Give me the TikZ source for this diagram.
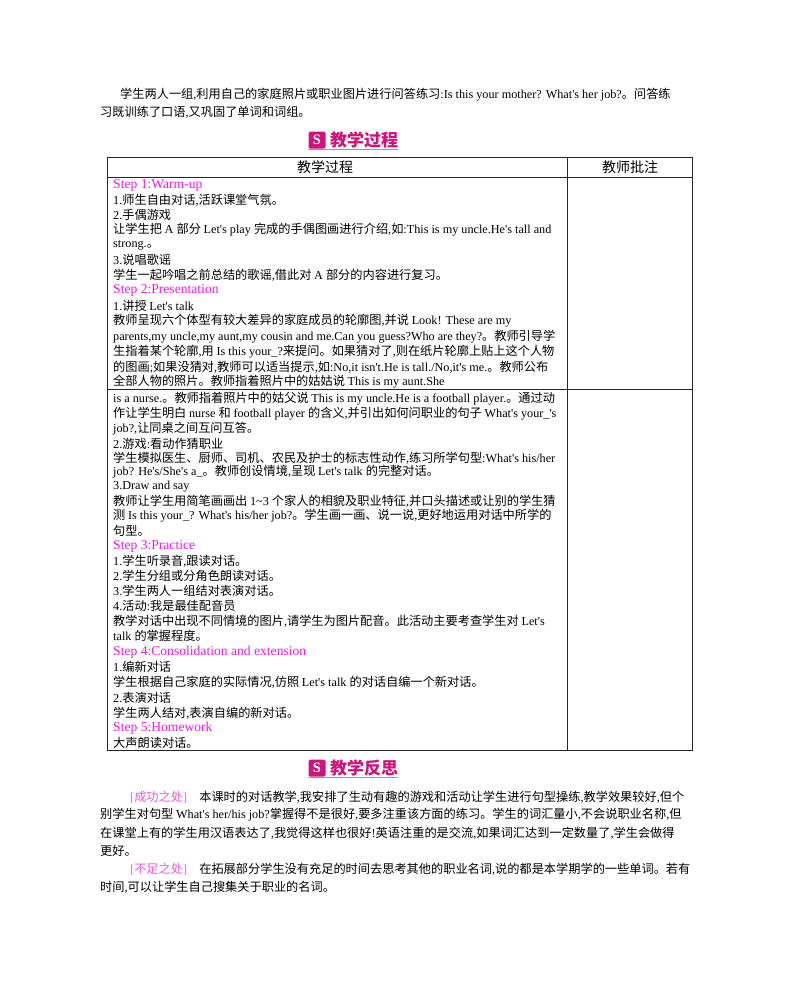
\documentclass[tikz,border=0pt]{standalone}
\usepackage{fontspec}
\setmainfont{Liberation Serif}
\newfontfamily\cjk{Noto Sans CJK SC}
\newfontfamily\latf{Liberation Serif}
\XeTeXinterchartokenstate=1
\newXeTeXintercharclass\CJKcls
\count255="4E00 \loop\XeTeXcharclass\count255=\CJKcls\ifnum\count255<"9FFF \advance\count255 1 \repeat
\count255="3000 \loop\XeTeXcharclass\count255=\CJKcls\ifnum\count255<"303F \advance\count255 1 \repeat
\count255="FF01 \loop\XeTeXcharclass\count255=\CJKcls\ifnum\count255<"FF5E \advance\count255 1 \repeat
\XeTeXinterchartoks 0 \CJKcls = {\cjk}
\XeTeXinterchartoks 4095 \CJKcls = {\cjk}
\XeTeXinterchartoks \CJKcls 0 = {\latf}
\XeTeXinterchartoks 4095 0 = {\latf}
\definecolor{stepc}{RGB}{235,30,225}
\definecolor{headc}{RGB}{205,20,120}
\definecolor{brc}{RGB}{235,90,220}
\newcounter{lnc}
\tikzset{txt/.style={anchor=west,inner sep=0pt,font=\fontsize{12.2}{13}\selectfont,text=black},
 steptxt/.style={txt,font=\fontsize{13.6}{15}\selectfont,text=stepc},
 grid/.style={line width=0.9pt,draw=black!85},
 headtxt/.style={anchor=west,inner sep=0pt,font=\fontsize{17}{18}\selectfont\bfseries,text=headc}}
\newcommand\tl[2]{\stepcounter{lnc}\node[txt] (t\arabic{lnc}) at (113,-#1) {#2};}
\newcommand\st[2]{\stepcounter{lnc}\node[steptxt] (t\arabic{lnc}) at (113,-#1) {#2};}
\newcommand\pl[3]{\stepcounter{lnc}\node[txt] (t\arabic{lnc}) at (#1,-#2) {#3};}
\newcommand\heading[3]{%
 \node[fill=headc,rounded corners=1.5pt,minimum width=17pt,minimum height=17pt,inner sep=0pt,text=white,font=\bfseries\Large] (#1i) at (317,-#2) {S};
 \node[headtxt] (#1t) at (330,-#2) {#3};
 \draw[headc!60,line width=1pt] ([yshift=-1pt]#1i.south west) -- ([xshift=90pt,yshift=-1pt]#1i.south west);}
\begin{document}
\begin{tikzpicture}[x=1pt,y=1pt]
\useasboundingbox (0,0) rectangle (800,-994);
\fill[white] (0,0) rectangle (800,-994);
\pl{120}{95}{学生两人一组,利用自己的家庭照片或职业图片进行问答练习:Is this your mother? What's her job?。问答练}
\pl{100}{112}{习既训练了口语,又巩固了单词和词组。}
\heading{h1}{140}{教学过程}
% table
\node[txt,anchor=center,font=\fontsize{14}{15}\selectfont] (th1) at (325,-167) {教学过程};
\node[txt,anchor=center,font=\fontsize{14}{15}\selectfont] (th2) at (630,-167) {教师批注};
\draw[grid] (107,-157) rectangle (692,-750);
\draw[grid] (107,-177) -- (692,-177);
\draw[grid] (107,-389) -- (692,-389);
\draw[grid] (567,-157) -- (567,-750);
\st{185}{Step 1:Warm-up}
\tl{200}{1.师生自由对话,活跃课堂气氛。}
\tl{215}{2.手偶游戏}
\tl{230}{让学生把 A 部分 Let's play 完成的手偶图画进行介绍,如:This is my uncle.He's tall and}
\tl{245}{strong.。}
\tl{260}{3.说唱歌谣}
\tl{275}{学生一起吟唱之前总结的歌谣,借此对 A 部分的内容进行复习。}
\st{290}{Step 2:Presentation}
\tl{306}{1.讲授 Let's talk}
\tl{321}{教师呈现六个体型有较大差异的家庭成员的轮廓图,并说 Look! These are my}
\tl{337}{parents,my uncle,my aunt,my cousin and me.Can you guess?Who are they?。教师引导学}
\tl{352}{生指着某个轮廓,用 Is this your\_?来提问。如果猜对了,则在纸片轮廓上贴上这个人物}
\tl{367}{的图画;如果没猜对,教师可以适当提示,如:No,it isn't.He is tall./No,it's me.。教师公布}
\tl{382}{全部人物的照片。教师指着照片中的姑姑说 This is my aunt.She}
\tl{399}{is a nurse.。教师指着照片中的姑父说 This is my uncle.He is a football player.。通过动}
\tl{414}{作让学生明白 nurse 和 football player 的含义,并引出如何问职业的句子 What's your\_'s}
\tl{429}{job?,让同桌之间互问互答。}
\tl{444}{2.游戏:看动作猜职业}
\tl{458}{学生模拟医生、厨师、司机、农民及护士的标志性动作,练习所学句型:What's his/her}
\tl{472}{job? He's/She's a\_。教师创设情境,呈现 Let's talk 的完整对话。}
\tl{487}{3.Draw and say}
\tl{501}{教师让学生用简笔画画出 1\textasciitilde3 个家人的相貌及职业特征,并口头描述或让别的学生猜}
\tl{516}{测 Is this your\_? What's his/her job?。学生画一画、说一说,更好地运用对话中所学的}
\tl{531}{句型。}
\st{546}{Step 3:Practice}
\tl{561}{1.学生听录音,跟读对话。}
\tl{576}{2.学生分组或分角色朗读对话。}
\tl{591}{3.学生两人一组结对表演对话。}
\tl{606}{4.活动:我是最佳配音员}
\tl{621}{教学对话中出现不同情境的图片,请学生为图片配音。此活动主要考查学生对 Let's}
\tl{636}{talk 的掌握程度。}
\st{652}{Step 4:Consolidation and extension}
\tl{667}{1.编新对话}
\tl{682}{学生根据自己家庭的实际情况,仿照 Let's talk 的对话自编一个新对话。}
\tl{698}{2.表演对话}
\tl{713}{学生两人结对,表演自编的新对话。}
\st{728}{Step 5:Homework}
\tl{743}{大声朗读对话。}
\heading{h2}{768}{教学反思}
\pl{130}{797}{\textcolor{brc}{[成功之处]}\quad 本课时的对话教学,我安排了生动有趣的游戏和活动让学生进行句型操练,教学效果较好,但个}
\pl{100}{815}{别学生对句型 What's her/his job?掌握得不是很好,要多注重该方面的练习。学生的词汇量小,不会说职业名称,但}
\pl{100}{833}{在课堂上有的学生用汉语表达了,我觉得这样也很好!英语注重的是交流,如果词汇达到一定数量了,学生会做得}
\pl{100}{851}{更好。}
\pl{130}{869}{\textcolor{brc}{[不足之处]}\quad 在拓展部分学生没有充足的时间去思考其他的职业名词,说的都是本学期学的一些单词。若有}
\pl{100}{887}{时间,可以让学生自己搜集关于职业的名词。}
\end{tikzpicture}
\end{document}
